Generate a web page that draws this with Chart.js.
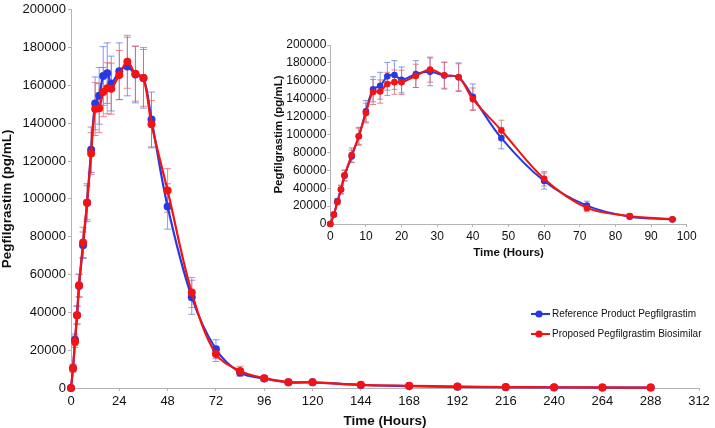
<!DOCTYPE html>
<html>
<head>
<meta charset="utf-8">
<script src="https://cdn.jsdelivr.net/npm/chart.js@4.4.1/dist/chart.umd.min.js"></script>
<style>
  html, body { margin: 0; padding: 0; background: #fff; }
  #wrap { position: relative; width: 715px; height: 428px; }
  #mainChart { position: absolute; left: 0; top: 0; }
  #insetChart { position: absolute; left: 262px; top: 30px; }
</style>
</head>
<body>
<div id="wrap">
  <canvas id="mainChart" width="715" height="428"></canvas>
  <canvas id="insetChart" width="440" height="235"></canvas>
</div>
<script>
// sampling times (hours)
const times = [0, 1, 2, 3, 4, 6, 8, 10, 12, 14, 16, 18, 20, 24, 28, 32, 36, 40, 48, 60, 72, 84, 96, 108, 120, 144, 168, 192, 216, 240, 264, 288];

// mean concentration (pg/mL)
const refMean = [0, 10500, 25500, 38500, 54000, 75500, 98000, 126000, 150500, 154500, 165000, 166500, 161000, 167500, 170000, 165800, 164000, 142000, 96000, 48000, 20500, 8200, 5000, 3000, 3000, 1600, 1000, 600, 400, 300, 250, 200];
const bioMean = [0, 10500, 24500, 38500, 54300, 77000, 98000, 124000, 147500, 148000, 156500, 158500, 158300, 165500, 172500, 166200, 164000, 139500, 104500, 50500, 18000, 9000, 5200, 3100, 3000, 1700, 1200, 800, 500, 400, 300, 200];

// standard deviations (pg/mL)
const refSD = [0, 2000, 3000, 4500, 6000, 7000, 10000, 12000, 14000, 15000, 15500, 16000, 14500, 15000, 15500, 15000, 16000, 14500, 12000, 9000, 5000, 2000, 1200, 800, 800, 500, 300, 200, 150, 100, 100, 80];
const bioSD = [0, 2000, 3000, 5000, 6000, 8000, 9000, 11000, 14000, 13000, 13000, 13500, 13500, 13000, 14000, 14500, 15000, 12500, 11500, 8000, 4000, 2500, 1200, 800, 800, 500, 300, 200, 150, 100, 100, 80];

const seriesNames = ['Reference Product Pegfilgrastim', 'Proposed Pegfilgrastim Biosimilar'];

// axis ticks
const mainXTicks = [0, 24, 48, 72, 96, 120, 144, 168, 192, 216, 240, 264, 288, 312];
const insetXTicks = [0, 10, 20, 30, 40, 50, 60, 70, 80, 90, 100];
const yTicks = [0, 20000, 40000, 60000, 80000, 100000, 120000, 140000, 160000, 180000, 200000];

const FONT = '"Liberation Sans", Arial, Helvetica, sans-serif';
const BLUE = 'rgb(38, 58, 228)';
const RED = 'rgb(245, 18, 18)';
const BLUE_ERR = 'rgba(95, 120, 225, 0.75)';
const RED_ERR = 'rgba(232, 95, 95, 0.75)';
const AXIS = '#b4b4b4';

// draws mean +/- SD whiskers from the dataset's errors array
const errorBars = {
    id: 'errorBars',
    beforeDatasetsDraw(chart, args, opts) {
        const { ctx, scales: { x, y } } = chart;
        ctx.save();
        chart.data.datasets.forEach(ds => {
            ctx.strokeStyle = ds.errorColor;
            ctx.lineWidth = 1;
            ds.data.forEach((p, i) => {
                const sd = ds.errors[i];
                if (!sd) return;
                const px = x.getPixelForValue(p.x);
                const top = y.getPixelForValue(p.y + sd);
                const bot = y.getPixelForValue(p.y - sd);
                const w = opts.cap;
                ctx.beginPath();
                ctx.moveTo(px, top); ctx.lineTo(px, bot);
                ctx.moveTo(px - w, top); ctx.lineTo(px + w, top);
                ctx.moveTo(px - w, bot); ctx.lineTo(px + w, bot);
                ctx.stroke();
            });
        });
        ctx.restore();
    }
};

// legend drawn inside the plot, lower right
const cornerLegend = {
    id: 'cornerLegend',
    afterDraw(chart, args, opts) {
        if (!opts.show) return;
        const { ctx } = chart;
        ctx.save();
        ctx.font = '10px ' + FONT;
        ctx.textBaseline = 'middle';
        chart.data.datasets.forEach((ds, i) => {
            const yy = opts.y + i * opts.gap;
            ctx.strokeStyle = ds.borderColor;
            ctx.lineWidth = 2;
            ctx.beginPath();
            ctx.moveTo(opts.x, yy); ctx.lineTo(opts.x + 19, yy);
            ctx.stroke();
            ctx.fillStyle = ds.borderColor;
            ctx.beginPath();
            ctx.arc(opts.x + 8, yy, 3.6, 0, Math.PI * 2);
            ctx.fill();
            ctx.fillStyle = '#111';
            ctx.fillText(ds.label, opts.x + 21, yy + 0.5);
        });
        ctx.restore();
    }
};

function makeDatasets(maxT, radius, lineW) {
    const idx = times.map((t, i) => i).filter(i => times[i] <= maxT);
    const mk = (name, mean, sd, color, errColor, order) => ({
        label: name,
        data: idx.map(i => ({ x: times[i], y: mean[i] })),
        errors: idx.map(i => sd[i]),
        errorColor: errColor,
        borderColor: color,
        backgroundColor: color,
        pointBackgroundColor: color,
        pointBorderColor: color,
        pointRadius: radius,
        pointBorderWidth: 0,
        borderWidth: lineW,
        tension: 0.35,
        clip: false,
        order: order
    });
    return [
        mk(seriesNames[0], refMean, refSD, BLUE, BLUE_ERR, 1),
        mk(seriesNames[1], bioMean, bioSD, RED, RED_ERR, 0)
    ];
}

function makeScales(c) {
    const grid = { display: true, drawOnChartArea: false, drawTicks: true, tickLength: c.tickLen, color: AXIS };
    const border = { display: true, color: AXIS, width: 1 };
    return {
        x: {
            type: 'linear', min: c.xMin, max: c.xMax,
            afterBuildTicks: s => { s.ticks = c.xTicks.map(v => ({ value: v })); },
            afterFit: s => { s.height = c.xHeight; },
            grid, border,
            ticks: { autoSkip: false, maxRotation: 0, padding: c.xPad, color: '#111', font: { family: FONT, size: c.tickSize }, callback: v => String(v) },
            title: { display: true, text: 'Time (Hours)', color: '#111', padding: { top: 0, bottom: c.xTitlePad }, font: { family: FONT, size: c.titleSize, weight: 'bold', lineHeight: 1 } }
        },
        y: {
            type: 'linear', min: 0, max: 200000,
            afterBuildTicks: s => { s.ticks = yTicks.map(v => ({ value: v })); },
            afterFit: s => { s.width = c.yWidth; },
            grid, border,
            ticks: { autoSkip: false, padding: c.yPad, color: '#111', font: { family: FONT, size: c.tickSize }, callback: v => String(v) },
            title: { display: true, text: 'Pegfilgrastim (pg/mL)', color: '#111', padding: { top: c.yTitlePad, bottom: 0 }, font: { family: FONT, size: c.titleSize, weight: 'bold', lineHeight: 1 } }
        }
    };
}

new Chart(document.getElementById('mainChart'), {
    type: 'line',
    data: { datasets: makeDatasets(400, 4, 2.2) },
    plugins: [errorBars, cornerLegend],
    options: {
        responsive: false,
        animation: false,
        devicePixelRatio: 1,
        layout: { padding: { left: 0, top: 8, right: 16, bottom: 0 } },
        scales: makeScales({
            xMin: 0, xMax: 312, xTicks: mainXTicks, xHeight: 40, yWidth: 71,
            tickLen: 3, xPad: 3, yPad: 2, tickSize: 13, titleSize: 13.5,
            xTitlePad: 0, yTitlePad: 1
        }),
        plugins: {
            legend: { display: false },
            tooltip: { enabled: false },
            errorBars: { cap: 3.5 },
            cornerLegend: { show: true, x: 531, y: 314, gap: 20 }
        }
    }
});

new Chart(document.getElementById('insetChart'), {
    type: 'line',
    data: { datasets: makeDatasets(100, 3.3, 2) },
    plugins: [errorBars],
    options: {
        responsive: false,
        animation: false,
        devicePixelRatio: 1,
        layout: { padding: { left: 0, top: 15, right: 15.3, bottom: 0 } },
        scales: makeScales({
            xMin: 0, xMax: 100, xTicks: insetXTicks, xHeight: 41, yWidth: 68.3,
            tickLen: 3, xPad: 2, yPad: 1, tickSize: 12, titleSize: 11.5,
            xTitlePad: 6, yTitlePad: 11
        }),
        plugins: {
            legend: { display: false },
            tooltip: { enabled: false },
            errorBars: { cap: 3 }
        }
    }
});
</script>
</body>
</html>
